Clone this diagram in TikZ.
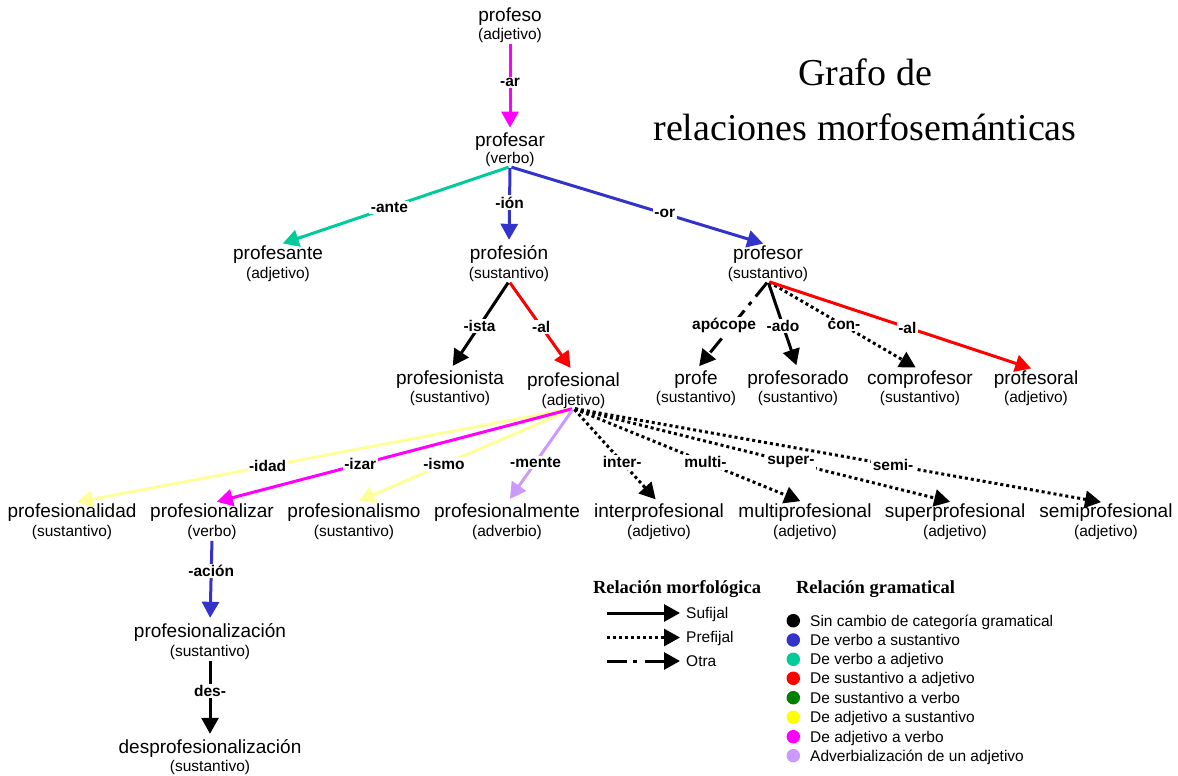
\documentclass[tikz,border=0pt]{standalone}
\usepackage{fontspec}
\setmainfont{Liberation Sans}
\newfontfamily\serifff{Liberation Serif}
\usetikzlibrary{arrows.meta}
\definecolor{cmag}{HTML}{FF00FF}
\definecolor{cblue}{HTML}{3333CC}
\definecolor{cteal}{HTML}{00CC99}
\definecolor{cred}{HTML}{FF0000}
\definecolor{cgreen}{HTML}{008000}
\definecolor{cyeldot}{HTML}{FFFF00}
\definecolor{cyel}{HTML}{FFFF99}
\definecolor{clav}{HTML}{CC99FF}
\newcommand\wordf{\fontsize{19}{22}\selectfont}
\newcommand\catf{\fontsize{15.5}{18}\selectfont}
\newcommand\labf{\fontsize{15.5}{18}\selectfont\bfseries}
\newcommand\legf{\fontsize{15.5}{18}\selectfont}
\newcommand\wpair[6]{%
  \node[word] (#1) at (#2,#3) {#5};
  \node[cat] (#1c) at (#2,#4) {#6};}
\begin{document}
\begin{tikzpicture}[x=1pt,y=-1pt,
  word/.style={font=\wordf, inner sep=0pt, anchor=base},
  cat/.style={font=\catf, inner sep=0pt, anchor=base},
  lab/.style={font=\labf, fill=white, text=black, inner sep=1.5pt},
  conn/.style={line width=3pt, shorten <=1.5pt, shorten >=5pt, -{Triangle[length=16pt,width=17pt]}},
  suf/.style={conn},
  pre/.style={conn, dash pattern=on 3pt off 3pt},
  otra/.style={conn, dash pattern=on 18pt off 7pt on 4pt off 7pt},
  legt/.style={font=\legf, inner sep=0pt, anchor=base west},
  dot/.style={circle, inner sep=0pt, minimum size=13.5pt},
  head/.style={font=\serifff\bfseries\fontsize{18.5}{22}\selectfont, inner sep=0pt, anchor=base},
  title/.style={font=\serifff\fontsize{38}{44}\selectfont, inner sep=0pt, anchor=base}]
\useasboundingbox (0,0) rectangle (1178,776);

% title
\node[title] (t1) at (865,85) {Grafo de};
\node[title] (t2) at (865,140) {relaciones morfosemánticas};

% words
\wpair{profeso}{510}{22}{39.5}{profeso}{(adjetivo)}
\wpair{profesar}{510}{146.5}{163.3}{profesar}{(verbo)}
\wpair{profesante}{278}{259}{278}{profesante}{(adjetivo)}
\wpair{profesion}{509}{259}{278}{profesión}{(sustantivo)}
\wpair{profesor}{768}{259}{278}{profesor}{(sustantivo)}
\wpair{profesionista}{450}{384}{402.5}{profesionista}{(sustantivo)}
\wpair{profesional}{573.5}{386}{405}{profesional}{(adjetivo)}
\wpair{profe}{696}{384}{402}{profe}{(sustantivo)}
\wpair{profesorado}{798}{384}{402}{profesorado}{(sustantivo)}
\wpair{comprofesor}{920}{384}{402}{comprofesor}{(sustantivo)}
\wpair{profesoral}{1036}{384}{402}{profesoral}{(adjetivo)}
\wpair{pidad}{72}{517}{536}{profesionalidad}{(sustantivo)}
\wpair{pizar}{212}{517}{536}{profesionalizar}{(verbo)}
\wpair{pismo}{354}{517}{536}{profesionalismo}{(sustantivo)}
\wpair{pmente}{507}{517}{536}{profesionalmente}{(adverbio)}
\wpair{pinter}{659}{517}{536}{interprofesional}{(adjetivo)}
\wpair{pmulti}{805}{517}{536}{multiprofesional}{(adjetivo)}
\wpair{psuper}{955}{517}{536}{superprofesional}{(adjetivo)}
\wpair{psemi}{1106}{517}{536}{semiprofesional}{(adjetivo)}
\wpair{pzacion}{210}{637}{656}{profesionalización}{(sustantivo)}
\wpair{pdes}{210}{753}{771.5}{desprofesionalización}{(sustantivo)}

% connectors
\draw[suf, cmag] (profesoc.south) -- node[lab, pos=0.44] {-ar} (profesar.north);
\draw[suf, cteal] (profesarc.south) -- node[lab, pos=0.52] {-ante} (profesante.north);
\draw[suf, cblue] (profesarc.south) -- node[lab, pos=0.46] {-ión} (profesion.north);
\draw[suf, cblue] (profesarc.south) -- node[lab, pos=0.6] {-or} (profesor.north);

\draw[suf, black] (profesionc.south) -- node[lab, pos=0.5] {-ista} (profesionista.north);
\draw[suf, cred] (profesionc.south) -- node[lab, pos=0.5] {-al} (profesional.north);

\draw[otra, black] (profesorc.south) -- node[lab, pos=0.5, xshift=-8pt] {apócope} (profe.north);
\draw[suf, black] (profesorc.south) -- node[lab, pos=0.5] {-ado} (profesorado.north);
\draw[pre, black] (profesorc.south) -- node[lab, pos=0.5] {con-} (comprofesor.north);
\draw[suf, cred] (profesorc.south) -- node[lab, pos=0.52] {-al} (profesoral.north);

\draw[suf, cyel] (profesionalc.south) -- node[lab, pos=0.61] {-idad} (pidad.north);
\draw[suf, cyel] (profesionalc.south) -- node[lab, pos=0.59] {-ismo} (pismo.north);
\draw[suf, cmag] (profesionalc.south) -- node[lab, pos=0.59] {-izar} (pizar.north);
\draw[suf, clav] (profesionalc.south) -- node[lab, pos=0.57] {-mente} (pmente.north);
\draw[pre, black] (profesionalc.south) -- node[lab, pos=0.57] {inter-} (pinter.north);
\draw[pre, black] (profesionalc.south) -- node[lab, pos=0.57] {multi-} (pmulti.north);
\draw[pre, black] (profesionalc.south) -- node[lab, pos=0.57] {super-} (psuper.north);
\draw[pre, black] (profesionalc.south) -- node[lab, pos=0.6] {semi-} (psemi.north);

\draw[suf, cblue] (pizarc.south) -- node[lab, pos=0.38] {-ación} (pzacion.north);
\draw[suf, black] (pzacionc.south) -- node[lab, pos=0.4] {des-} (pdes.north);

% legend: morphological relation
\node[head] (lm) at (677,593) {Relación morfológica};
\node[head] (lg) at (875.5,593) {Relación gramatical};
\coordinate (ls) at (605,613);
\coordinate (lp) at (605,637.5);
\coordinate (lo) at (605,661);
\node[legt] (lsuf) at (686,618) {Sufijal};
\node[legt] (lpre) at (686,642.5) {Prefijal};
\node[legt] (lotr) at (686,666) {Otra};
\draw[suf, shorten >=6pt] (ls) -- (ls -| lsuf.west);
\draw[pre, shorten >=6pt] (lp) -- (lp -| lpre.west);
\draw[conn, dash pattern=on 20pt off 6pt on 4pt off 8pt, shorten >=6pt] (lo) -- (lo -| lotr.west);

% legend: grammatical relation
\node[dot, fill=black]   (d1) at (793.3,620.7) {};
\node[dot, fill=cblue]   (d2) at (793.3,640) {};
\node[dot, fill=cteal]   (d3) at (793.3,659.3) {};
\node[dot, fill=cred]    (d4) at (793.3,678.3) {};
\node[dot, fill=cgreen]  (d5) at (793.3,697.7) {};
\node[dot, fill=cyeldot] (d6) at (793.3,717.3) {};
\node[dot, fill=cmag]    (d7) at (793.3,736.7) {};
\node[dot, fill=clav]    (d8) at (793.3,755.7) {};
\node[legt] (g1) at (810,626.2) {Sin cambio de categoría gramatical};
\node[legt] (g2) at (810,645.5) {De verbo a sustantivo};
\node[legt] (g3) at (810,664.8) {De verbo a adjetivo};
\node[legt] (g4) at (810,683.8) {De sustantivo a adjetivo};
\node[legt] (g5) at (810,703.2) {De sustantivo a verbo};
\node[legt] (g6) at (810,722.8) {De adjetivo a sustantivo};
\node[legt] (g7) at (810,742.2) {De adjetivo a verbo};
\node[legt] (g8) at (810,761.2) {Adverbialización de un adjetivo};
\end{tikzpicture}
\end{document}
